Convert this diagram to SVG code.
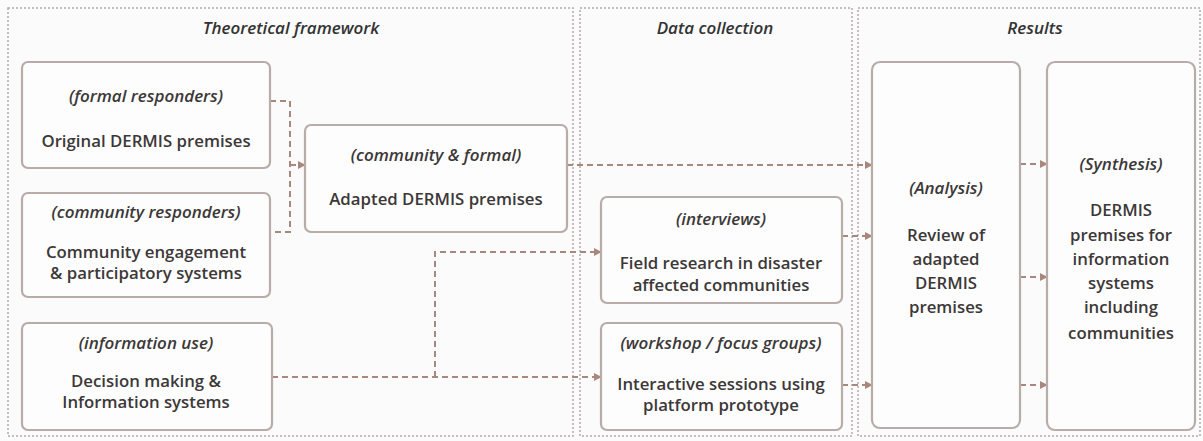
<svg xmlns="http://www.w3.org/2000/svg" width="1203" height="441" viewBox="0 0 1203 441">
<defs>
<style>
.panel{fill:none;stroke:#b3aaa8;stroke-width:1.5;stroke-dasharray:2 2}
.box{fill:#fdfdfd;stroke:#b8aca8;stroke-width:2.2}
.t{font-family:"Open Sans","Liberation Sans",sans-serif;font-size:16.8px;fill:#3c3838;text-anchor:middle;font-weight:600}
.i{font-family:"Open Sans","Liberation Sans",sans-serif;font-size:17px;fill:#3c3838;text-anchor:middle;font-style:italic;font-weight:600}
.h{font-family:"Open Sans","Liberation Sans",sans-serif;font-size:17px;fill:#333;text-anchor:middle;font-style:italic;font-weight:600}
.c{fill:none;stroke:#a8877c;stroke-width:2;stroke-dasharray:6 4}
</style>
<marker id="ah" viewBox="0 0 10 10" refX="9" refY="5" markerWidth="4" markerHeight="4" orient="auto" markerUnits="strokeWidth">
<path d="M0,0 L10,5 L0,10 z" fill="#a8877c"/>
</marker>
</defs>
<rect x="0" y="0" width="1203" height="441" fill="#fbfbfb"/>
<g id="panels">
<rect class="panel" x="8" y="8" width="565" height="428"/>
<rect class="panel" x="580" y="8" width="272" height="428"/>
<rect class="panel" x="858" y="8" width="342" height="428"/>
<text class="h" x="291" y="34">Theoretical framework</text>
<text class="h" x="715" y="34">Data collection</text>
<text class="h" x="1035" y="34">Results</text>
</g>
<g id="connectors">
<path class="c" d="M270,101 H290 V232 H270"/>
<path class="c" d="M290,165 H305" marker-end="url(#ah)"/>
<path class="c" d="M567,165 H872" marker-end="url(#ah)"/>
<path class="c" d="M272,377 H601" marker-end="url(#ah)"/>
<path class="c" d="M435,377 V252 H601" marker-end="url(#ah)"/>
<path class="c" d="M842,236 H872" marker-end="url(#ah)"/>
<path class="c" d="M842,385 H872" marker-end="url(#ah)"/>
<path class="c" d="M1020,164 H1047" marker-end="url(#ah)"/>
<path class="c" d="M1020,277 H1047" marker-end="url(#ah)"/>
<path class="c" d="M1020,385 H1047" marker-end="url(#ah)"/>
</g>
<g id="n1">
<rect class="box" x="22" y="62" width="248" height="106" rx="6"/>
<text class="i" x="146" y="102">(formal responders)</text>
<text class="t" x="146" y="147">Original DERMIS premises</text>
</g>
<g id="n2">
<rect class="box" x="22" y="193" width="248" height="104" rx="6"/>
<text class="i" x="146" y="218">(community responders)</text>
<text class="t" x="146" y="258">Community engagement</text>
<text class="t" x="146" y="279">&amp; participatory systems</text>
</g>
<g id="n3">
<rect class="box" x="22" y="323" width="250" height="107" rx="6"/>
<text class="i" x="146" y="349">(information use)</text>
<text class="t" x="146" y="387">Decision making &amp;</text>
<text class="t" x="146" y="408">Information systems</text>
</g>
<g id="n4">
<rect class="box" x="305" y="125" width="262" height="107" rx="6"/>
<text class="i" x="436" y="161">(community &amp; formal)</text>
<text class="t" x="436" y="205">Adapted DERMIS premises</text>
</g>
<g id="n5">
<rect class="box" x="601" y="197" width="241" height="106" rx="6"/>
<text class="i" x="721" y="225">(interviews)</text>
<text class="t" x="721" y="269">Field research in disaster</text>
<text class="t" x="721" y="291">affected communities</text>
</g>
<g id="n6">
<rect class="box" x="601" y="323" width="241" height="107" rx="6"/>
<text class="i" x="721" y="349">(workshop / focus groups)</text>
<text class="t" x="721" y="390">Interactive sessions using</text>
<text class="t" x="721" y="411">platform prototype</text>
</g>
<g id="n7">
<rect class="box" x="872" y="62" width="148" height="366" rx="8"/>
<text class="i" x="946" y="194">(Analysis)</text>
<text class="t" x="946" y="241">Review of</text>
<text class="t" x="946" y="265">adapted</text>
<text class="t" x="946" y="289">DERMIS</text>
<text class="t" x="946" y="313">premises</text>
</g>
<g id="n8">
<rect class="box" x="1047" y="62" width="148" height="368" rx="8"/>
<text class="i" x="1121" y="170">(Synthesis)</text>
<text class="t" x="1121" y="216">DERMIS</text>
<text class="t" x="1121" y="241">premises for</text>
<text class="t" x="1121" y="265">information</text>
<text class="t" x="1121" y="289">systems</text>
<text class="t" x="1121" y="313">including</text>
<text class="t" x="1121" y="339">communities</text>
</g>
</svg>
